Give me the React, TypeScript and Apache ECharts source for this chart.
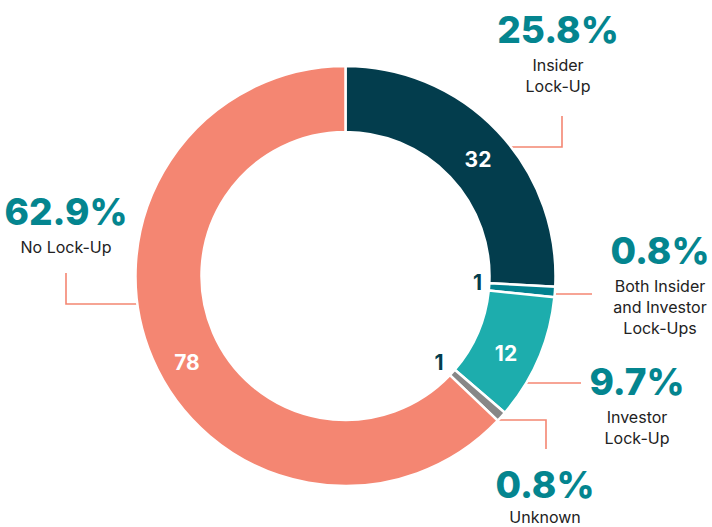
import React, { useEffect, useRef } from "react";
import * as echarts from "echarts";

const categories = [
  "Insider\nLock-Up",
  "Both Insider\nand Investor\nLock-Ups",
  "Investor\nLock-Up",
  "Unknown",
  "No Lock-Up",
];
const counts = [32, 1, 12, 1, 78];
const sliceColors = ["#033D4D", "#02818F", "#1DADAD", "#878787", "#F48672"];
const innerLabelColors = ["#FFFFFF", "#033D4D", "#FFFFFF", "#033D4D", "#FFFFFF"];

// layout (label placement) constants
const outerLabelPos = [
  [558, 4],
  [660, 225.5],
  [637, 356.5],
  [545, 461.5],
  [66, 186.5],
];
const pctLineHeights = [50, 50, 50, 46, 50];
const nameLineHeights = [21, 21, 21, 18, 21];
const leaderPoints = [
  [[511, 147], [562, 147], [562, 116]],
  [[555, 294], [574, 294], [592, 294]],
  [[526, 383], [554, 383], [581, 383]],
  [[495, 420], [546, 420], [546, 449]],
  [[138, 304], [66, 304], [66, 273]],
];
const innerLabelPos = [
  [478, 159],
  [477.5, 282],
  [506, 353],
  [439, 362.5],
  [187, 362],
];

const FONT = "Inter, 'Noto Sans', sans-serif";

export default function App() {
  const ref = useRef<HTMLDivElement>(null);
  useEffect(() => {
    if (!ref.current) return;
    const chart = echarts.init(ref.current, undefined, { renderer: "svg" });
    const total = counts.reduce((a, b) => a + b, 0);
    const data = counts.map((v, i) => ({
      name: categories[i],
      value: v,
      itemStyle: { color: sliceColors[i] },
      label: {
        rich: {
          pct: {
            fontFamily: FONT,
            fontSize: 37,
            fontWeight: 800,
            color: "#04858F",
            lineHeight: pctLineHeights[i],
            align: "center",
          },
          name: {
            fontFamily: FONT,
            fontSize: 16,
            fontWeight: 400,
            color: "#222222",
            lineHeight: nameLineHeights[i],
            align: "center",
          },
        },
      },
    }));
    const innerData = counts.map((v, i) => ({
      name: categories[i],
      value: v,
      label: { color: innerLabelColors[i] },
    }));
    chart.setOption({
      animation: false,
      backgroundColor: "#FFFFFF",
      series: [
        {
          type: "pie",
          center: [345.5, 276],
          radius: [144, 210],
          startAngle: 90,
          clockwise: true,
          avoidLabelOverlap: false,
          silent: true,
          itemStyle: { borderColor: "#FFFFFF", borderWidth: 2.5 },
          data,
          label: {
            show: true,
            position: "outside",
            fontFamily: FONT,
            formatter: (p: any) =>
              `{pct|${((p.value / total) * 100).toFixed(1)}%}\n{name|${p.name}}`,
          },
          labelLine: {
            show: true,
            smooth: false,
            lineStyle: { color: "#F48672", width: 1.6 },
          },
          labelLayout: (params: any) => {
            const i = params.dataIndex;
            return {
              x: outerLabelPos[i][0],
              y: outerLabelPos[i][1],
              align: "center",
              verticalAlign: "top",
              labelLinePoints: leaderPoints[i],
            };
          },
        },
        {
          type: "pie",
          center: [345.5, 276],
          radius: [144, 210],
          startAngle: 90,
          clockwise: true,
          avoidLabelOverlap: false,
          silent: true,
          itemStyle: { color: "rgba(0,0,0,0)", borderWidth: 0 },
          data: innerData,
          label: {
            show: true,
            position: "inside",
            fontFamily: FONT,
            fontSize: 21,
            fontWeight: 700,
            formatter: (p: any) => `${p.value}`,
          },
          labelLine: { show: false },
          labelLayout: (params: any) => {
            const i = params.dataIndex;
            return {
              x: innerLabelPos[i][0],
              y: innerLabelPos[i][1],
              align: "center",
              verticalAlign: "middle",
            };
          },
        },
      ],
    });
    return () => chart.dispose();
  }, []);
  return (
    <div
      ref={ref}
      style={{
        position: "fixed",
        left: 0,
        top: 0,
        width: 712,
        height: 527,
        background: "#FFFFFF",
      }}
    />
  );
}
